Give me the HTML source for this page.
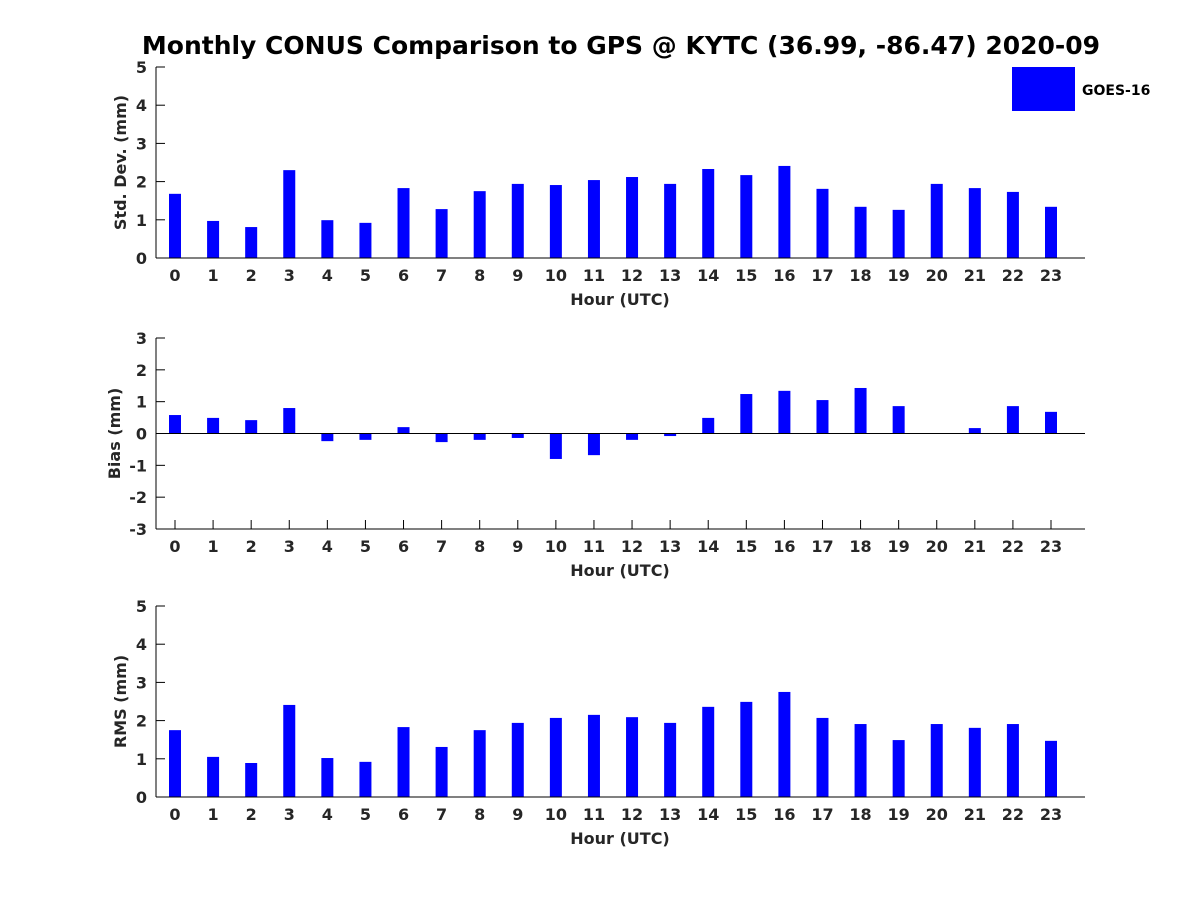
<!DOCTYPE html>
<html><head><meta charset="utf-8"><style>
html,body{margin:0;padding:0;background:#fff;}
svg{display:block;font-family:"DejaVu Sans","Liberation Sans",sans-serif;font-weight:bold;}
</style></head><body>
<svg id="chart" width="1200" height="900">
<rect width="1200" height="900" fill="#fff"/>
<text x="621" y="54" text-anchor="middle" font-size="25" fill="#000">Monthly CONUS Comparison to GPS @ KYTC (36.99, -86.47) 2020-09</text>
<g>
<rect x="1012" y="67" width="63" height="44" fill="#0000ff"/>
<text x="1082" y="95" font-size="14" fill="#000">GOES-16</text>
</g>
</svg>
<script>
const hours = [0,1,2,3,4,5,6,7,8,9,10,11,12,13,14,15,16,17,18,19,20,21,22,23];
const stdDev = [1.68,0.97,0.81,2.30,0.99,0.92,1.83,1.28,1.75,1.94,1.91,2.04,2.12,1.94,2.33,2.17,2.41,1.81,1.34,1.26,1.94,1.83,1.73,1.34];
const bias = [0.58,0.49,0.42,0.80,-0.24,-0.20,0.20,-0.27,-0.20,-0.14,-0.80,-0.68,-0.20,-0.08,0.49,1.24,1.34,1.05,1.43,0.86,0.0,0.17,0.86,0.68];
const rms = [1.75,1.05,0.89,2.41,1.02,0.92,1.83,1.31,1.75,1.94,2.07,2.15,2.09,1.94,2.36,2.49,2.75,2.07,1.91,1.49,1.91,1.81,1.91,1.47];
const stdTicks = [0,1,2,3,4,5];
const biasTicks = [-3,-2,-1,0,1,2,3];
const rmsTicks = [0,1,2,3,4,5];

const NS='http://www.w3.org/2000/svg';
const svg=document.getElementById('chart');
function mk(tag,attrs,parent){const e=document.createElementNS(NS,tag);for(const k in attrs)e.setAttribute(k,attrs[k]);(parent||svg).appendChild(e);return e;}
const X0=156,X1=1085;
function xScale(h){return 175+h*(1051-175)/23;}

function panel(name,top,bottom,ymin,ymax,ticks,vals,ylabel,ylx){
  const g=mk('g',{});
  
  
  const y=v=>bottom-(v-ymin)/(ymax-ymin)*(bottom-top);
  hours.forEach(h=>{
    mk('line',{x1:xScale(h),y1:bottom,x2:xScale(h),y2:bottom-9,stroke:'#000'},g);
    const tx=mk('text',{x:xScale(h),y:bottom+23,'text-anchor':'middle','font-size':16,fill:'#262626'},g);
    tx.textContent=h;
    
    
  });
  vals.forEach((v,i)=>{
    const y0=y(Math.max(ymin,0)), y1=y(v);
    const r=mk('rect',{x:xScale(hours[i])-6,y:Math.min(y0,y1),width:12,height:Math.abs(y1-y0),fill:'#0000ff'},g);
    
    
  });
  const ax=mk('line',{x1:X0,y1:top,x2:X0,y2:bottom,stroke:'#000','stroke-width':1},g);
  
  
  const bx=mk('line',{x1:X0,y1:bottom,x2:X1,y2:bottom,stroke:'#000','stroke-width':1},g);
  
  
  if(ymin<0){
    const zl=mk('line',{x1:X0,y1:y(0),x2:X1,y2:y(0),stroke:'#000','stroke-width':1},g);
    
    
  }
  ticks.forEach(t=>{
    mk('line',{x1:X0,y1:y(t),x2:X0+9,y2:y(t),stroke:'#000'},g);
    const tx=mk('text',{x:X0-9,y:y(t)+6,'text-anchor':'end','font-size':16,fill:'#262626'},g);
    tx.textContent=t;
    
    
  });
  const xl=mk('text',{x:620,y:bottom+47,'text-anchor':'middle','font-size':16,fill:'#262626'},g);
  xl.textContent='Hour (UTC)';
  
  
  const cy=(top+bottom)/2;
  const yl=mk('text',{x:ylx,y:cy,'text-anchor':'middle','font-size':16,fill:'#262626',transform:'rotate(-90 '+ylx+' '+cy+')'},g);
  yl.textContent=ylabel;
  
  
}
panel('std-dev',67,258,0,5,stdTicks,stdDev,'Std. Dev. (mm)',126);
panel('bias',338,529,-3,3,biasTicks,bias,'Bias (mm)',120);
panel('rms',606,797,0,5,rmsTicks,rms,'RMS (mm)',126);
</script>
</body></html>
